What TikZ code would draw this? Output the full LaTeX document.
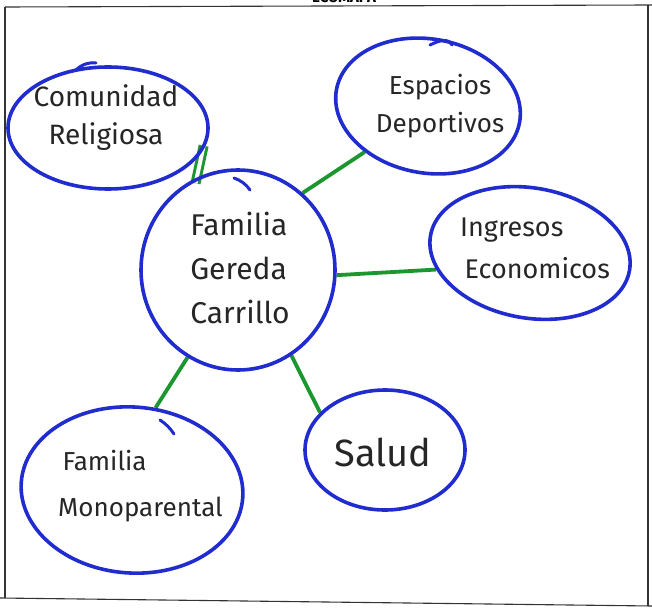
\documentclass[tikz,border=0pt]{standalone}
\usepackage{fontspec}
\setmainfont{Fira Sans}
\usetikzlibrary{shapes.geometric,backgrounds}
\definecolor{penblue}{RGB}{32,44,205}
\definecolor{pengreen}{RGB}{28,150,46}
\tikzset{
  bubble/.style={ellipse, draw=penblue, line width=3.6pt, inner sep=0pt},
  words/.style={align=center, text=black!85, inner sep=0pt, font=\fontsize{28}{40}\selectfont},
  tie/.style={draw=pengreen, line width=3.8pt},
  doubletie/.style={draw=pengreen, line width=3pt, double=white, double distance=4pt,
    shorten <=-6pt, shorten >=-6pt},
  frameline/.style={draw=black!80, line width=1.1pt},
  tail/.style={draw=penblue, line width=3pt, line cap=round}
}
\begin{document}
\begin{tikzpicture}[x=1pt,y=-1pt]
\useasboundingbox (0,0) rectangle (652,612);
\clip (0,0) rectangle (652,612);

% sheet frame and its title
\node[font=\bfseries\fontsize{15}{15}\selectfont, anchor=base] (title) at (344,3) {ECOMAPA};
\draw[frameline] (5,7) -- (652,5);
\draw[frameline] (5,7) -- (5,598);
\draw[frameline] (0,598) -- (652,606);
\draw[frameline] (648,5) -- (648,606);

% bubbles
\node[bubble, minimum width=200pt, minimum height=122pt] (rel) at (108,128) {};
\node[bubble, minimum width=186pt, minimum height=134pt, rotate=-10] (dep) at (428,106) {};
\node[bubble, minimum width=194pt, minimum height=200pt] (fam) at (238,270) {};
\node[bubble, minimum width=202pt, minimum height=130pt, rotate=-10] (ing) at (530,253) {};
\node[bubble, minimum width=222pt, minimum height=166pt, rotate=-4] (mono) at (132,490) {};
\node[bubble, minimum width=160pt, minimum height=120pt] (sal) at (385,450) {};

% what each bubble stands for
\node[words] (relt) at (106,118) {Comunidad\\[-2pt]Religiosa};
\node[words, font=\fontsize{26}{40}\selectfont] (dept) at (440,106) {Espacios\\[-2pt]Deportivos};
\node[words, align=left, font=\fontsize{30}{44}\selectfont] (famt) at (240,268) {Familia\\Gereda\\Carrillo};
\node[words, align=left, anchor=west, font=\fontsize{27}{42}\selectfont] (ingt) at (460,248) {Ingresos\\\,Economicos};
\node[words, align=left, anchor=west, font=\fontsize{26}{46}\selectfont] (monot) at (58,486) {\,Familia\\Monoparental};
\node[words, font=\fontsize{38}{40}\selectfont] (salt) at (383,452) {Salud};

% pen tails where each bubble was closed
\draw[tail] (76,70) .. controls (82,64) and (90,62) .. (96,63);
\draw[tail] (430,45) .. controls (440,40) and (448,38) .. (452,45);
\draw[tail] (234,178) .. controls (240,180) and (246,184) .. (250,190);
\draw[tail] (160,420) .. controls (166,424) and (170,428) .. (174,434);

% ties between the family and its surroundings
\begin{scope}[on background layer]
\fill[white] (0,0) rectangle (652,612);
\draw[doubletie] (fam.114) -- (rel.-14);
\draw[tie] (fam.50) -- (dep.226);
\draw[tie] (fam.-3) -- (ing.200);
\draw[tie] (fam.240) -- (mono.78);
\draw[tie] (fam.302) -- (sal.150);
\end{scope}
\end{tikzpicture}
\end{document}
